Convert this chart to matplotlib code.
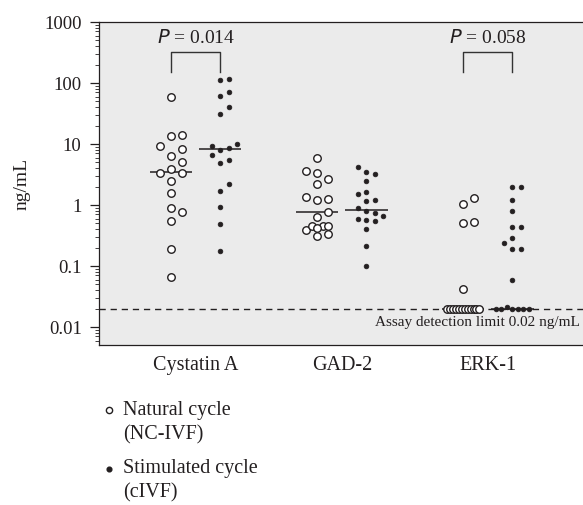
import numpy as np
import matplotlib.pyplot as plt
from matplotlib.ticker import FixedLocator, NullFormatter, LogLocator

plt.rcParams['font.family'] = ['Liberation Serif', 'DejaVu Serif']
INK = '#231f20'

categories = ["Cystatin A", "GAD-2", "ERK-1"]

# natural cycle (NC-IVF), open circles
nc_cystatin = [59.6, 13.7, 14.0, 8.3, 9.2, 6.3, 5.1, 3.3, 3.85, 3.4, 2.45,
               1.56, 0.90, 0.78, 0.55, 0.19, 0.065]
nc_gad = [5.96, 3.6, 3.3, 2.7, 2.2, 1.25, 1.2, 1.37, 0.78, 0.64, 0.39,
          0.45, 0.46, 0.42, 0.46, 0.31, 0.33]
nc_erk = [1.32, 1.03, 0.51, 0.53, 0.042, 0.02, 0.02, 0.02, 0.02, 0.02,
          0.02, 0.02, 0.02, 0.02, 0.02, 0.02, 0.02]

# stimulated cycle (cIVF), filled dots
st_cystatin = [111, 117, 70, 61, 40, 31, 9.9, 8.5, 7.9, 9.4, 6.5, 4.9, 5.5,
               2.2, 1.68, 0.94, 0.49, 0.176]
st_gad = [4.2, 3.5, 3.2, 2.5, 1.63, 1.53, 1.19, 1.16, 0.88, 0.75, 0.79,
          0.59, 0.57, 0.67, 0.54, 0.40, 0.21, 0.10]
st_erk = [1.97, 1.97, 1.2, 0.80, 0.44, 0.44, 0.29, 0.24, 0.19, 0.19, 0.06,
          0.02, 0.02, 0.021, 0.02, 0.02, 0.02, 0.02]

nc_medians = [3.5, 0.78, 0.02]
st_medians = [8.3, 0.84, 0.02]
p_values = ["0.014", None, "0.058"]
detection_limit = 0.02


def swarm(ax, xc, values, step, min_dist, max_k, floor_step):
    """Розкладає точки групи вбік, щоб вони не перекривались (у пікселях)"""
    values = np.asarray(values, dtype=float)
    pts = ax.transData.transform(np.column_stack([np.full(values.size, xc), values]))
    xs = pts[:, 0].copy()
    low = values < detection_limit * 1.1
    idx_low = np.where(low)[0]
    xs[idx_low] = pts[idx_low, 0] + (np.arange(idx_low.size) - (idx_low.size - 1) / 2) * floor_step

    # спершу цілі кроки без перекриття, потім півкроки з частковим перекриттям
    tier1 = [0] + [s * k for k in range(1, max_k + 1) for s in (1, -1)]
    tier2 = [0] + [s * k / 2 for k in range(1, 9) for s in (1, -1)]
    placed = []
    for i in np.argsort(values, kind='stable'):
        if low[i]:
            continue
        px, py = pts[i]
        x = None
        for cands, dmin in ((tier1, min_dist), (tier2, min_dist * 0.52)):
            for k in cands:
                cx = px + k * step
                if all(np.hypot(cx - qx, py - qy) >= dmin for qx, qy in placed):
                    x = cx
                    break
            if x is not None:
                break
        if x is None:
            x = px
        placed.append((x, py))
        xs[i] = x
    back = ax.transData.inverted().transform(np.column_stack([xs, pts[:, 1]]))
    return back[:, 0]


fig = plt.figure(figsize=(5.83, 5.05), dpi=100)
ax = fig.add_axes([99 / 583, 1 - 345 / 505, 1 - 99 / 583, 323 / 505])
ax.set_facecolor('#ebebeb')
ax.set_yscale('log')
ax.set_ylim(10 ** -2.295, 1000)
ax.set_xlim(-0.664, 2.651)

off = 0.168
half = 0.144
nc_groups = [nc_cystatin, nc_gad, nc_erk]
st_groups = [st_cystatin, st_gad, st_erk]

ax.axhline(detection_limit, color=INK, lw=1.0, dashes=(4.5, 3.5), zorder=1)

for i in range(len(categories)):
    xn = swarm(ax, i - off, nc_groups[i], 11, 10.5, 1, 2.9)
    xs = swarm(ax, i + off, st_groups[i], 8.3, 8.0, 2, 5.5)
    ax.hlines(nc_medians[i], i - off - half, i - off + half, color=INK, lw=1.1, zorder=2)
    ax.hlines(st_medians[i], i + off - half, i + off + half, color=INK, lw=1.1, zorder=2)
    ax.plot(xn, nc_groups[i], 'o', ms=5.4, mfc='white', mec=INK, mew=1.0,
            ls='none', zorder=3)
    ax.plot(xs, st_groups[i], 'o', ms=3.4, mfc=INK, mec=INK, mew=0.5,
            ls='none', zorder=3)
    if p_values[i]:
        ax.plot([i - off, i - off, i + off, i + off], [151, 322, 322, 151],
                color='#333333', lw=1.0, zorder=2)
        ax.text(i, 540, '$P$ = ' + p_values[i], ha='center', va='center',
                fontsize=14, color=INK)

ax.text(0.994, 0.0117, 'Assay detection limit 0.02 ng/mL', ha='right',
        va='center', fontsize=11, color=INK, transform=ax.get_yaxis_transform())

ax.yaxis.set_major_locator(FixedLocator([0.01, 0.1, 1, 10, 100, 1000]))
ax.set_yticklabels(['0.01', '0.1', '1', '10', '100', '1000'])
ax.yaxis.set_minor_locator(LogLocator(base=10, subs=np.arange(2, 10)))
ax.yaxis.set_minor_formatter(NullFormatter())
ax.set_xticks(range(len(categories)))
ax.set_xticklabels(categories)
ax.tick_params(axis='x', length=0, pad=8, labelsize=14.5, colors=INK)
ax.tick_params(axis='y', which='major', length=6.5, width=0.9, pad=6,
               labelsize=13.5, colors=INK)
ax.tick_params(axis='y', which='minor', length=3, width=0.6, colors=INK)
ax.set_ylabel('ng/mL', fontsize=14, color=INK, labelpad=10)

for side in ['left', 'top', 'bottom']:
    ax.spines[side].set_linewidth(0.9)
    ax.spines[side].set_color(INK)
ax.spines['right'].set_visible(False)

# легенда під графіком
legend_rows = [(410, 'Natural cycle'), (435, '(NC-IVF)'),
               (469, 'Stimulated cycle'), (493, '(cIVF)')]
for y, label in legend_rows:
    fig.text(123 / 583, 1 - y / 505, label, ha='left', va='center',
             fontsize=14.5, color=INK)
ax.plot([109 / 583], [1 - 410 / 505], 'o', ms=4.5, mfc='white', mec=INK, mew=1.0,
        transform=fig.transFigure, clip_on=False)
ax.plot([109 / 583], [1 - 469 / 505], 'o', ms=3.4, mfc=INK, mec=INK,
        transform=fig.transFigure, clip_on=False)

fig.savefig('out.png', dpi=100)
